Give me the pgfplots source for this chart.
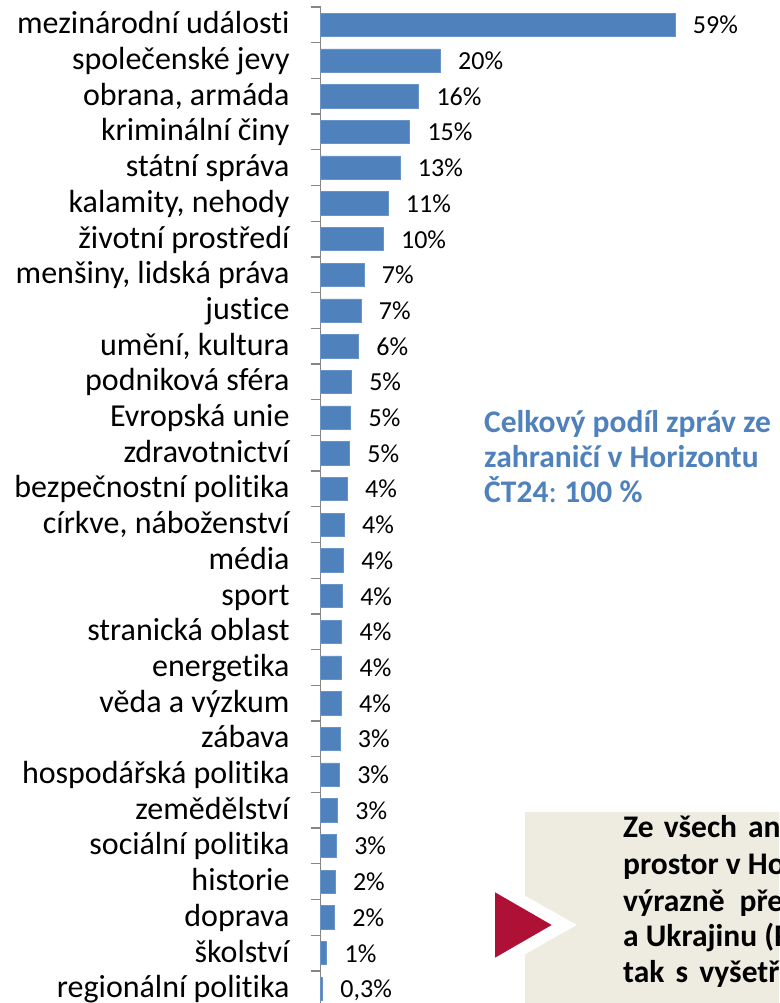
\documentclass[border=0pt]{standalone}
\usepackage{fontspec}
\setmainfont{Carlito}[Ligatures=NoCommon]
\usepackage{pgfplots}
\pgfplotsset{compat=1.18}
\usepackage{pgfplotstable}
\definecolor{barblue}{HTML}{4F81BD}
\definecolor{boxgray}{HTML}{EEECE1}
\definecolor{trired}{HTML}{AE1036}
\definecolor{axgray}{HTML}{868686}

\pgfplotstableread{
idx val lab
0 59 59
1 19.9 20
2 16.3 16
3 14.8 15
4 13.2 13
5 11.2 11
6 10.4 10
7 7.2 7
8 6.7 7
9 6.3 6
10 5.1 5
11 5.0 5
12 4.8 5
13 4.4 4
14 3.9 4
15 3.8 4
16 3.6 4
17 3.5 4
18 3.5 4
19 3.4 4
20 3.2 3
21 3.1 3
22 2.8 3
23 2.6 3
24 2.4 2
25 2.3 2
26 1.0 1
27 0.3 0,3
}\datatable

\begin{document}
\begin{tikzpicture}[x=1pt,y=1pt]
\path[use as bounding box] (0,0) rectangle (779,1003);
\clip (0,0) rectangle (779,1003);
\begin{axis}[
  at={(320.7pt,996pt)}, anchor=north west,
  scale only axis, width=420.35pt, height=999.6pt,
  xmin=0, xmax=70, ymin=-0.5, ymax=27.5, y dir=reverse,
  xbar, bar width=23.3pt, bar shift=0pt,
  axis x line=none, axis y line*=left,
  y axis line style={axgray, line width=1.3pt},
  ytick={0,...,27},
  yticklabels={{mezinárodní události},{společenské jevy},{obrana, armáda},{kriminální činy},{státní správa},{kalamity, nehody},{životní prostředí},{menšiny, lidská práva},{justice},{umění, kultura},{podniková sféra},{Evropská unie},{zdravotnictví},{bezpečnostní politika},{církve, náboženství},{média},{sport},{stranická oblast},{energetika},{věda a výzkum},{zábava},{hospodářská politika},{zemědělství},{sociální politika},{historie},{doprava},{školství},{regionální politika}},
  major tick length=0pt,
  minor ytick={-0.5,0.5,...,27.5},
  minor tick length=10pt, tick align=outside,
  every minor tick/.style={axgray, line width=1.3pt},
  yticklabel style={font=\fontsize{32}{36}\selectfont, anchor=base east, inner sep=0pt, xshift=-31pt, yshift=-9pt},
  point meta=explicit symbolic,
  nodes near coords={\pgfplotspointmeta\%},
  nodes near coords style={font=\fontsize{26}{30}\selectfont, anchor=base west, inner sep=0pt, xshift=17.7pt, yshift=-9pt, text=black},
  clip=false,
]
\addplot[fill=barblue, draw=barblue!85!white, line width=0.5pt] table[x=val, y=idx, meta=lab] \datatable;
\end{axis}

% blue note
\begin{scope}[font=\fontsize{31.5}{36}\selectfont, text=barblue]
\node[anchor=base west, inner sep=0pt] at (484,570) {\bfseries Celkový podíl zpráv ze};
\node[anchor=base west, inner sep=0pt] at (484,535) {\bfseries zahraničí v Horizontu};
\node[anchor=base west, inner sep=0pt] at (484,500) {{\bfseries ČT24}:\hspace{-2pt} {\bfseries 100 \%}};
\end{scope}

% grey box with arrow
\fill[boxgray] (525,191) rectangle (820,-20);
\fill[white] (505,118.6) -- (576.7,78) -- (505,37.4) -- cycle;
\fill[trired] (495,110.7) -- (551.7,78) -- (495,45.3) -- cycle;
\begin{scope}[font=\fontsize{31.5}{36}\selectfont\bfseries, text=black]
\node[anchor=base west, inner sep=0pt] at (623,165) {Ze\hspace{3pt} všech\hspace{4pt} analyzovaných};
\node[anchor=base west, inner sep=0pt] at (623,128) {prostor v Horizontu};
\node[anchor=base west, inner sep=0pt] at (623,91.5) {výrazně\hspace{8pt} převažovaly};
\node[anchor=base west, inner sep=0pt] at (623,56) {a Ukrajinu (Rusko};
\node[anchor=base west, inner sep=0pt] at (623,20) {tak\hspace{4pt} s\hspace{4pt} vyšetřováním};
\end{scope}
\end{tikzpicture}
\end{document}
